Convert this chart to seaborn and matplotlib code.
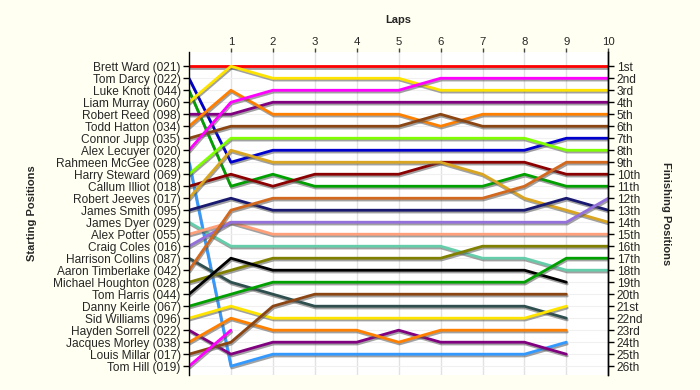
import matplotlib
matplotlib.use("Agg")
import matplotlib.pyplot as plt
import matplotlib.patheffects as pe
import seaborn as sns
import pandas as pd

laps = [0, 1, 2, 3, 4, 5, 6, 7, 8, 9, 10]

drivers = [
    "Brett Ward (021)", "Tom Darcy (022)", "Luke Knott (044)", "Liam Murray (060)",
    "Robert Reed (098)", "Todd Hatton (034)", "Connor Jupp (035)", "Alex Lecuyer (020)",
    "Rahmeen McGee (028)", "Harry Steward (069)", "Callum Illiot (018)", "Robert Jeeves (017)",
    "James Smith (095)", "James Dyer (029)", "Alex Potter (055)", "Craig Coles (016)",
    "Harrison Collins (087)", "Aaron Timberlake (042)", "Michael Houghton (028)", "Tom Harris (044)",
    "Danny Keirle (067)", "Sid Williams (096)", "Hayden Sorrell (022)", "Jacques Morley (038)",
    "Louis Millar (017)", "Tom Hill (019)",
]

colors = [
    "#FF0000", "#0000CD", "#00A000", "#FFE400", "#800080", "#FF8000", "#8B4513", "#FF00FF",
    "#3399FF", "#80FF00", "#8B0000", "#DAA520", "#191970", "#66CDAA", "#FFA07A", "#9370DB",
    "#2F4F4F", "#D2691E", "#808000", "#000000", "#00A000", "#FFE400", "#800080", "#FF8000",
    "#8B4513", "#FF00FF",
]

N = None
positions = [
    [1, 1, 1, 1, 1, 1, 1, 1, 1, 1, 1],
    [2, 9, 8, 8, 8, 8, 8, 8, 8, 7, 7],
    [3, 11, 10, 11, 11, 11, 11, 11, 10, 11, 11],
    [4, 1, 2, 2, 2, 2, 3, 3, 3, 3, 3],
    [5, 5, 4, 4, 4, 4, 4, 4, 4, 4, 4],
    [6, 3, 5, 5, 5, 5, 6, 5, 5, 5, 5],
    [7, 6, 6, 6, 6, 6, 5, 6, 6, 6, 6],
    [8, 4, 3, 3, 3, 3, 2, 2, 2, 2, 2],
    [9, 26, 25, 25, 25, 25, 25, 25, 25, 24, N],
    [10, 7, 7, 7, 7, 7, 7, 7, 7, 8, 8],
    [11, 10, 11, 10, 10, 10, 9, 9, 9, 10, 10],
    [12, 8, 9, 9, 9, 9, 9, 10, 12, 13, 14],
    [13, 12, 13, 13, 13, 13, 13, 13, 13, 12, 13],
    [14, 16, 16, 16, 16, 16, 16, 17, 17, 18, 18],
    [15, 14, 15, 15, 15, 15, 15, 15, 15, 15, 15],
    [16, 14, 14, 14, 14, 14, 14, 14, 14, 14, 12],
    [17, 19, 20, 21, 21, 21, 21, 21, 21, 22, N],
    [18, 13, 12, 12, 12, 12, 12, 12, 11, 9, 9],
    [19, 18, 17, 17, 17, 17, 17, 16, 16, 16, 16],
    [20, 17, 18, 18, 18, 18, 18, 18, 18, 19, N],
    [21, 20, 19, 19, 19, 19, 19, 19, 19, 17, 17],
    [22, 21, 22, 22, 22, 22, 22, 22, 22, 21, N],
    [23, 25, 24, 24, 24, 23, 24, 24, 24, 25, N],
    [24, 22, 23, 23, 23, 24, 23, 23, 23, 23, N],
    [25, 24, 21, 20, 20, 20, 20, 20, 20, 20, N],
    [26, 23, N, N, N, N, N, N, N, N, N],
]

finish_labels = [
    "1st", "2nd", "3rd", "4th", "5th", "6th", "7th", "8th", "9th", "10th", "11th", "12th", "13th",
    "14th", "15th", "16th", "17th", "18th", "19th", "20th", "21st", "22nd", "23rd", "24th", "25th", "26th",
]

lap_ticks = [1, 2, 3, 4, 5, 6, 7, 8, 9, 10]

rows = []
for d, pos in zip(drivers, positions):
    for lap, p in zip(laps, pos):
        if p is not None:
            rows.append({"driver": d, "lap": lap, "pos": p})
df = pd.DataFrame(rows)

sns.set_theme(style="white")
plt.rcParams["font.family"] = ["Liberation Sans", "DejaVu Sans"]

fig = plt.figure(figsize=(7, 3.9), dpi=100)
fig.patch.set_facecolor("#FFFFF2")
ax = fig.add_axes([0.27, 0.038, 0.599, 0.829])
ax.set_facecolor("white")

palette = dict(zip(drivers, colors))
sns.lineplot(data=df, x="lap", y="pos", hue="driver", hue_order=drivers, palette=palette,
             estimator=None, sort=False, legend=False, linewidth=2.0, ax=ax)

for line in ax.get_lines():
    line.set_path_effects([pe.SimpleLineShadow(offset=(0.6, -1.3), shadow_color="#555555", alpha=0.55),
                           pe.Normal()])

ax.set_xlim(0, 10)
ax.set_ylim(26.75, -0.2)
ax.set_yticks(range(1, 27))
ax.set_yticklabels(drivers, fontsize=8.6)
ax.set_xticks(lap_ticks)
ax.set_xticklabels([str(t) for t in lap_ticks], fontsize=8.2)
ax.xaxis.tick_top()
ax.xaxis.set_label_position("top")
ax.set_xlabel("Laps", fontsize=8, fontweight="bold", labelpad=10)
ax.set_ylabel("Starting Positions", fontsize=8, fontweight="bold", labelpad=12)

ax.grid(True, axis="x", color="#E2E2E2", linewidth=1)
ax.grid(True, axis="y", color="#F0F0F0", linewidth=0.8)
ax.set_axisbelow(True)
ax.tick_params(axis="y", which="both", left=True, length=4, width=1, color="black", pad=2)
ax.tick_params(axis="x", which="both", top=True, bottom=False, length=3, width=1, color="#444444", pad=0.5)

for s in ["left", "right"]:
    ax.spines[s].set_visible(True)
    ax.spines[s].set_color("black")
    ax.spines[s].set_linewidth(1)
ax.spines["top"].set_visible(False)
ax.spines["bottom"].set_visible(False)

ax2 = ax.twinx()
ax2.set_ylim(ax.get_ylim())
ax2.set_yticks(range(1, 27))
ax2.set_yticklabels(finish_labels, fontsize=8.6)
ax2.tick_params(axis="y", right=True, length=4, width=1, color="black", pad=2)
ax2.set_ylabel("Finishing Positions", fontsize=8, fontweight="bold", rotation=-90, labelpad=20)
for s in ["top", "bottom", "left"]:
    ax2.spines[s].set_visible(False)
ax2.spines["right"].set_color("black")
ax2.spines["right"].set_linewidth(1)
ax2.grid(False)

fig.savefig("out.png", dpi=100, facecolor=fig.get_facecolor())
